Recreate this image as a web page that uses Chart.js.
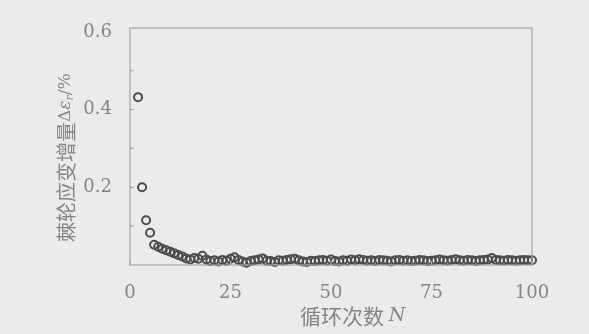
<!DOCTYPE html>
<html>
<head>
<meta charset="utf-8">
<script src="https://cdn.jsdelivr.net/npm/chart.js@4/dist/chart.umd.min.js"></script>
<style>
  html, body { margin: 0; padding: 0; background: #ebebeb; }
  #wrap { width: 589px; height: 334px; position: relative; }
</style>
</head>
<body>
<div id="wrap"><canvas id="c" width="589" height="334"></canvas></div>
<script>
// --- Data ----------------------------------------------------------------
var cycles = [];
for (var n = 2; n <= 100; n++) cycles.push(n);

var increments = [
  0.432, 0.200, 0.115, 0.083, 0.052, 0.047, 0.042, 0.038, 0.034, 0.030,
  0.026, 0.022, 0.017, 0.014, 0.018, 0.016, 0.024, 0.014, 0.010, 0.012,
  0.009, 0.013, 0.011, 0.016, 0.020, 0.013, 0.009, 0.006, 0.010, 0.012,
  0.014, 0.017, 0.011, 0.010, 0.008, 0.012, 0.011, 0.013, 0.015, 0.016,
  0.012, 0.009, 0.008, 0.011, 0.010, 0.012, 0.013, 0.011, 0.014, 0.010,
  0.009, 0.012, 0.011, 0.014, 0.012, 0.015, 0.013, 0.011, 0.012, 0.010,
  0.013, 0.012, 0.011, 0.009, 0.012, 0.013, 0.011, 0.012, 0.010, 0.011,
  0.013, 0.012, 0.010, 0.011, 0.012, 0.014, 0.012, 0.011, 0.013, 0.015,
  0.012, 0.011, 0.013, 0.012, 0.010, 0.012, 0.013, 0.014, 0.018, 0.013,
  0.012, 0.011, 0.013, 0.012, 0.011, 0.012, 0.013, 0.012, 0.012
];

var xTicks = [0, 25, 50, 75, 100];
var yTicks = [0.2, 0.4, 0.6];

var ink = '#858585';
var markColor = '#4c4c4c';

// --- Plugins ---------------------------------------------------------------
var frame = {
  id: 'frame',
  afterDraw: function(chart){
    var a = chart.chartArea, ctx = chart.ctx;
    var ys = chart.scales.y, xs = chart.scales.x;
    ctx.save();
    ctx.strokeStyle = '#a5a5a5';
    ctx.lineWidth = 1.2;
    ctx.strokeRect(a.left, a.top, a.right - a.left, a.bottom - a.top);
    // inward ticks
    ctx.beginPath();
    for (var v = 0.1; v < 0.6; v += 0.1) {
      var py = ys.getPixelForValue(v);
      ctx.moveTo(a.left, py); ctx.lineTo(a.left + 4, py);
    }
    xTicks.forEach(function(t){
      var px = xs.getPixelForValue(t);
      ctx.moveTo(px, a.bottom); ctx.lineTo(px, a.bottom - 4);
    });
    ctx.stroke();
    ctx.restore();
  }
};

// draws a run of [text, font, dy] pieces one after the other
function drawRun(ctx, parts, x, y){
  parts.forEach(function(p){
    ctx.font = p[1];
    ctx.fillText(p[0], x, y + (p[2] || 0));
    x += ctx.measureText(p[0]).width;
  });
}

var titles = {
  id: 'titles',
  afterDraw: function(chart){
    var ctx = chart.ctx;
    ctx.save();
    ctx.fillStyle = ink;
    ctx.textBaseline = 'middle';
    ctx.textAlign = 'left';
    // y title, rotated, running bottom -> top
    ctx.translate(66, 242);
    ctx.rotate(-Math.PI / 2);
    drawRun(ctx, [
      ['棘轮应变增量', '20px "Noto Sans CJK SC", serif'],
      ['Δ', '17px "DejaVu Serif", serif'],
      ['ε', 'italic 17px "DejaVu Serif", serif'],
      ['r', 'italic 11px "DejaVu Serif", serif', 4],
      ['/%', '17px "DejaVu Serif", serif']
    ], 0, 0);
    ctx.restore();

    ctx.save();
    ctx.fillStyle = ink;
    ctx.textBaseline = 'middle';
    ctx.textAlign = 'left';
    drawRun(ctx, [
      ['循环次数 ', '21px "Noto Sans CJK SC", serif'],
      ['N', 'italic 19px "DejaVu Serif", serif']
    ], 300, 316);
    ctx.restore();
  }
};

// --- Chart -------------------------------------------------------------------
var points = cycles.map(function(n, i){ return { x: n, y: increments[i] }; });

new Chart(document.getElementById('c'), {
  type: 'scatter',
  data: {
    datasets: [{
      data: points,
      showLine: false,
      pointStyle: 'circle',
      pointRadius: 4,
      pointBorderWidth: 2,
      pointBorderColor: markColor,
      pointBackgroundColor: 'rgba(0,0,0,0)',
      clip: false
    }]
  },
  options: {
    responsive: false,
    animation: false,
    devicePixelRatio: 1,
    layout: { padding: { top: 28, right: 57, bottom: 0, left: 0 } },
    plugins: { legend: { display: false }, tooltip: { enabled: false } },
    scales: {
      x: {
        type: 'linear',
        min: 0, max: 100,
        afterBuildTicks: function(s){ s.ticks = xTicks.map(function(v){ return { value: v }; }); },
        afterFit: function(s){ s.height = 69; },
        grid: { display: false },
        border: { display: false },
        ticks: {
          color: ink,
          padding: 10,
          maxRotation: 0,
          font: { family: '"DejaVu Serif", serif', size: 18 }
        }
      },
      y: {
        type: 'linear',
        min: 0, max: 0.61,
        afterBuildTicks: function(s){ s.ticks = yTicks.map(function(v){ return { value: v }; }); },
        afterFit: function(s){ s.width = 130; },
        grid: { display: false },
        border: { display: false },
        ticks: {
          color: ink,
          padding: 10,
          font: { family: '"DejaVu Serif", serif', size: 18 },
          callback: function(v){ return v.toFixed(1); }
        }
      }
    }
  },
  plugins: [frame, titles]
});
</script>
</body>
</html>
